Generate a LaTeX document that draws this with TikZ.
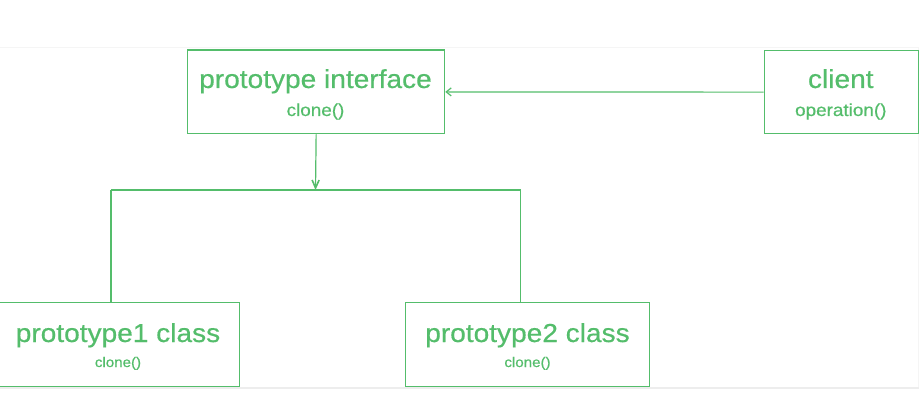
\documentclass[tikz,border=0pt]{standalone}
\usepackage{fontspec}
\setmainfont{Liberation Sans}
\newfontfamily\labelfont{Liberation Sans}[FakeBold=0.5]
\usetikzlibrary{arrows.meta}
\definecolor{umlgreen}{RGB}{84,189,107}
% labels are set in a slightly stretched sans face
\newcommand{\widetext}[1]{\scalebox{1.08}[1]{#1}}
\begin{document}
\begin{tikzpicture}[x=1pt,y=-1pt,
  umlbox/.style={draw=umlgreen, line width=1.3pt, inner sep=0pt, anchor=north west},
  titletext/.style={text=umlgreen, anchor=base, inner sep=0pt, font=\labelfont\fontsize{26}{26}\selectfont},
  optext/.style={text=umlgreen, anchor=base, inner sep=0pt, font=\labelfont\fontsize{17.5}{17.5}\selectfont},
  smalloptext/.style={text=umlgreen, anchor=base, inner sep=0pt, font=\labelfont\fontsize{14}{14}\selectfont},
  conn/.style={draw=umlgreen, line width=1.2pt},
  barb/.style={-{Straight Barb[length=5pt,width=8pt,line width=1.2pt]}},
  vbarb/.style={-{Straight Barb[length=8pt,width=7pt,line width=1.6pt]}}]
\useasboundingbox (0,0) rectangle (923,403);
% page panel with a faint frame and bottom shadow
\fill[black!7] (0,386) rectangle (919,388.5);
\fill[white] (0,48) rectangle (918,386.5);
\draw[black!4, line width=0.8pt] (0,47.5) -- (918,47.5) -- (918,386.5);

% boxes
\node[umlbox, minimum width=257pt, minimum height=83.5pt] (iface) at (187,49.5) {};
\node[umlbox, minimum width=154.5pt, minimum height=83pt] (client) at (763.5,50) {};
\node[umlbox, minimum width=242pt, minimum height=84pt] (p1) at (-3,302) {};
\node[umlbox, minimum width=244pt, minimum height=84pt] (p2) at (405,302) {};

% texts
\node[titletext] (ifacetitle) at (315.5,88) {\widetext{prototype interface}};
\node[optext] (ifaceop) at (315.5,116) {\widetext{clone()}};
\node[titletext] (clienttitle) at (840.8,88) {\widetext{client}};
\node[optext] (clientop) at (840.8,116) {\widetext{operation()}};
\node[titletext] (p1title) at (118,342) {\widetext{prototype1 class}};
\node[smalloptext] (p1op) at (118,367) {\widetext{clone()}};
\node[titletext] (p2title) at (527.5,342) {\widetext{prototype2 class}};
\node[smalloptext] (p2op) at (527.5,367) {\widetext{clone()}};

% connectors
\coordinate (split) at (315.5,190);
\coordinate (busL) at (111,190);
\coordinate (busR) at (520.5,190);
\draw[conn, barb] (client.west) -- (iface.east);
\draw[conn, vbarb] (iface.south) -- (split);
\draw[conn] (busL) -- (busR);
\draw[conn] (busL) -- (busL |- p1.north);
\draw[conn] (busR) -- (busR |- p2.north);
\end{tikzpicture}
\end{document}
